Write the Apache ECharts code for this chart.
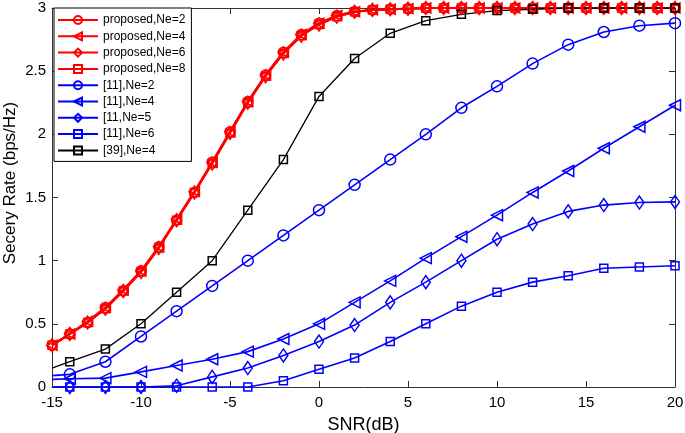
<!DOCTYPE html>
<html><head><meta charset="utf-8">
<script src="https://cdn.jsdelivr.net/npm/echarts@6/dist/echarts.min.js"></script>
<style>html,body{margin:0;padding:0;background:#fff}#c{width:685px;height:433px}</style>
</head><body><div id="c"></div>
<script>
const snrRed = [-15,-14,-13,-12,-11,-10,-9,-8,-7,-6,-5,-4,-3,-2,-1,0,1,2,3,4,5,6,7,8,9,10,11,12,13,14,15,16,17,18,19,20];
const propNe2 = [0.33,0.42,0.51,0.63,0.76,0.92,1.11,1.32,1.54,1.78,2.02,2.26,2.47,2.65,2.79,2.88,2.94,2.97,2.985,2.99,2.995,3,3,3,3,3,3,3,3,3,3,3,3,3,3,3];
const propNe4 = [0.33,0.42,0.52,0.63,0.77,0.92,1.11,1.33,1.55,1.78,2.02,2.26,2.47,2.65,2.79,2.88,2.94,2.97,2.985,2.99,2.995,3,3,3,3,3,3,3,3,3,3,3,3,3,3,3];
const propNe6 = [0.33,0.42,0.51,0.62,0.76,0.91,1.10,1.32,1.54,1.77,2.01,2.25,2.46,2.64,2.78,2.87,2.93,2.97,2.985,2.99,2.995,3,3,3,3,3,3,3,3,3,3,3,3,3,3,3];
const propNe8 = [0.33,0.42,0.51,0.62,0.76,0.91,1.10,1.32,1.54,1.77,2.01,2.25,2.46,2.64,2.78,2.87,2.93,2.97,2.985,2.99,2.995,3,3,3,3,3,3,3,3,3,3,3,3,3,3,3];
const snrOther = [-15,-14,-12,-10,-8,-6,-4,-2,0,2,4,6,8,10,12,14,16,18,20];
const ref11Ne2 = [0.09,0.1,0.2,0.4,0.6,0.8,1.0,1.2,1.4,1.6,1.8,2.0,2.21,2.38,2.56,2.71,2.81,2.86,2.88];
const ref11Ne4 = [0.06,0.065,0.07,0.12,0.17,0.22,0.28,0.38,0.5,0.67,0.84,1.02,1.19,1.36,1.54,1.71,1.89,2.06,2.23];
const ref11Ne5 = [0,0,0,0,0.01,0.08,0.15,0.25,0.36,0.49,0.67,0.83,1.0,1.17,1.29,1.39,1.44,1.46,1.465];
const ref11Ne6 = [0,0,0,0,0,0,0,0.05,0.14,0.23,0.36,0.5,0.64,0.75,0.83,0.88,0.94,0.95,0.96];
const ref39Ne4 = [0.15,0.2,0.3,0.5,0.75,1.0,1.4,1.8,2.3,2.6,2.8,2.9,2.95,2.98,2.99,3,3,3,3];
const xTicks = {min:-15, max:20, interval:5};
const yTicks = {min:0, max:3, interval:0.5};
const xTitle = 'SNR(dB)';
const yTitle = 'Secery Rate (bps/Hz)';

const FONT = 'Liberation Sans, Arial, sans-serif';
function mk(name, xs, ys, color, symbol, rot, lw, hideFirst, size){
  return {
    name, type:'line', xAxisIndex:0, yAxisIndex:0,
    data: xs.map((x,i)=> (hideFirst && i===0) ? {value:[x,ys[i]], symbol:'none'} : [x, ys[i]]),
    symbol, symbolRotate: rot, symbolSize: size,
    showAllSymbol: true,
    lineStyle:{color, width: lw},
    itemStyle:{color:'rgba(255,255,255,0)', borderColor: color, borderWidth: 1.5},
    emphasis:{disabled:true}, animation:false
  };
}
const RED='#ff0000', BLUE='#0000ff', BLACK='#000000';
const series = [
  mk('proposed,Ne=2', snrRed, propNe2, RED, 'circle', 0, 2, false, 10),
  mk('proposed,Ne=4', snrRed, propNe4, RED, 'triangle', 90, 2, false, 10),
  mk('proposed,Ne=6', snrRed, propNe6, RED, 'diamond', 0, 2, false, [9,13]),
  mk('proposed,Ne=8', snrRed, propNe8, RED, 'rect', 0, 2, false, 8),
  mk('[11],Ne=2', snrOther, ref11Ne2, BLUE, 'circle', 0, 1.6, true, 11),
  mk('[11],Ne=4', snrOther, ref11Ne4, BLUE, 'triangle', 90, 1.6, true, 11),
  mk('[11,Ne=5', snrOther, ref11Ne5, BLUE, 'diamond', 0, 1.6, true, [9,13]),
  mk('[11],Ne=6', snrOther, ref11Ne6, BLUE, 'rect', 0, 1.6, true, 8),
  mk('[39],Ne=4', snrOther, ref39Ne4, BLACK, 'rect', 0, 1.3, true, 8)
];
const axColor = '#333';
const chart = echarts.init(document.getElementById('c'), null, {renderer:'canvas'});
chart.setOption({
  backgroundColor:'#fff',
  animation:false,
  grid:{left:52, right:10, top:8, bottom:46, containLabel:false, outerBoundsMode:'none'},
  graphic:[{
    type:'text', x:10, y:183, rotation:Math.PI/2,
    style:{text:yTitle, x:0, y:0, align:'center', verticalAlign:'middle',
           font:'17px Liberation Sans, Arial, sans-serif', fill:'#000'}
  }],
  legend:{
    orient:'vertical', left:54, top:8,
    itemWidth:40, itemHeight:10, itemGap:4.3,
    backgroundColor:'#fff', borderColor:'#000', borderWidth:1, borderRadius:0,
    padding:[6,6,5,3],
    textStyle:{fontFamily:FONT, fontSize:12, color:'#000'},
    data: series.map(s=>s.name)
  },
  xAxis:[
    {type:'value', min:xTicks.min, max:xTicks.max, interval:xTicks.interval, position:'bottom',
     name:xTitle, nameLocation:'middle', nameGap:29,
     nameTextStyle:{fontFamily:FONT, fontSize:18, color:'#000'},
     axisLine:{show:true, onZero:false, lineStyle:{color:axColor}},
     axisTick:{show:true, inside:true, length:6, lineStyle:{color:axColor}},
     axisLabel:{fontFamily:FONT, fontSize:15, color:'#000', margin:8},
     splitLine:{show:false}},
    {type:'value', min:xTicks.min, max:xTicks.max, interval:xTicks.interval, position:'top',
     axisLine:{show:true, onZero:false, lineStyle:{color:axColor}},
     axisTick:{show:true, inside:true, length:6, lineStyle:{color:axColor}},
     axisLabel:{show:false}, splitLine:{show:false}}
  ],
  yAxis:[
    {type:'value', min:yTicks.min, max:yTicks.max, interval:yTicks.interval, position:'left',
     axisLine:{show:true, onZero:false, lineStyle:{color:axColor}},
     axisTick:{show:true, inside:true, length:6, lineStyle:{color:axColor}},
     axisLabel:{fontFamily:FONT, fontSize:15, color:'#000', margin:6},
     splitLine:{show:false}},
    {type:'value', min:yTicks.min, max:yTicks.max, interval:yTicks.interval, position:'right',
     axisLine:{show:true, onZero:false, lineStyle:{color:axColor}},
     axisTick:{show:true, inside:true, length:6, lineStyle:{color:axColor}},
     axisLabel:{show:false}, splitLine:{show:false}}
  ],
  series
});
</script></body></html>
